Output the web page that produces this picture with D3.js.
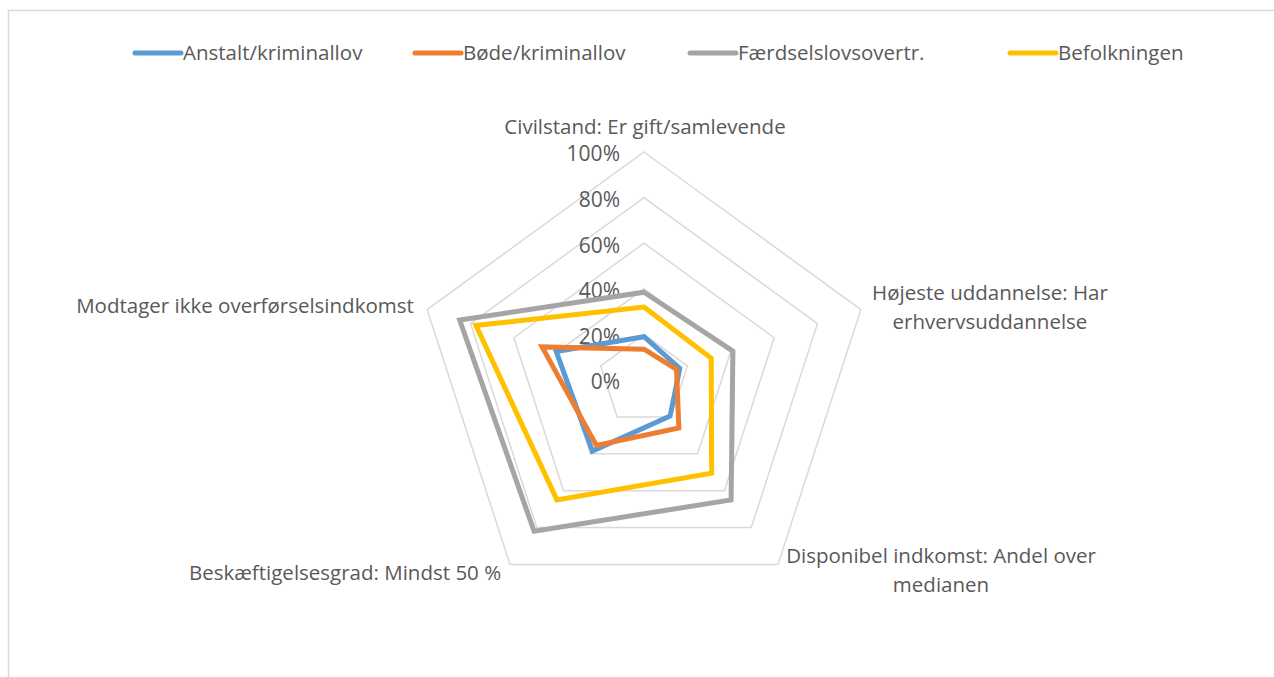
<!DOCTYPE html>
<html>
<head>
<meta charset="utf-8">
<script src="https://cdn.jsdelivr.net/npm/d3@7"></script>
<style>
  body { margin: 0; background: #fff; }
  text { font-family: "Open Sans", sans-serif; fill: #595959; }
</style>
</head>
<body>
<svg id="radar"></svg>
<script>
var categories = [
    ["Civilstand: Er gift/samlevende"],
    ["Højeste uddannelse: Har", "erhvervsuddannelse"],
    ["Disponibel indkomst: Andel over", "medianen"],
    ["Beskæftigelsesgrad: Mindst 50 %"],
    ["Modtager ikke overførselsindkomst"]
];
var seriesNames = ["Anstalt/kriminallov", "Bøde/kriminallov", "Færdselslovsovertr.", "Befolkningen"];
var anstalt    = [19, 16.5, 19.5, 38.5, 40.5];
var bode       = [13.5, 15, 26, 35.5, 47];
var faerdsel   = [38.5, 41, 65, 82, 85];
var befolkning = [32, 31, 50.5, 65, 77.5];
var ticks = [0, 20, 40, 60, 80, 100];

var colors = ["#5B9BD5", "#ED7D31", "#A5A5A5", "#FFC000"];
var seriesValues = [anstalt, bode, faerdsel, befolkning];

var width = 1274, height = 677;
var cx = 644, cy = 380, radius = 228;

var svg = d3.select("#radar")
    .attr("width", width)
    .attr("height", height);

// chart frame
svg.append("rect")
    .attr("x", 8.5)
    .attr("y", 10.5)
    .attr("width", width + 20)
    .attr("height", height + 20)
    .style("fill", "none")
    .style("stroke", "#d9d9d9")
    .style("stroke-width", 1.5);

var r = d3.scaleLinear().domain([0, 100]).range([0, radius]);
var angle = d3.scaleLinear().domain([0, categories.length]).range([0, 2 * Math.PI]);

function point(i, v) {
    var a = angle(i);
    return [cx + r(v) * Math.sin(a), cy - r(v) * Math.cos(a)];
}

var g = svg.append("g");

// grid rings
g.selectAll(".ring")
    .data(ticks.slice(1))
    .enter().append("polygon")
    .attr("class", "ring")
    .attr("points", function(t) {
        return categories.map(function(c, i) { return point(i, t).join(","); }).join(" ");
    })
    .style("fill", "none")
    .style("stroke", "#d9d9d9")
    .style("stroke-width", 1.5);

// tick labels
g.selectAll(".tick")
    .data(ticks)
    .enter().append("text")
    .attr("class", "tick")
    .attr("x", cx - 24)
    .attr("y", function(t) { return cy + 2 - r(t); })
    .attr("dy", ".35em")
    .style("text-anchor", "end")
    .style("font-size", "21px")
    .text(function(t) { return t + "%"; });

// series
var line = d3.line().curve(d3.curveLinearClosed);
seriesValues.forEach(function(vals, s) {
    g.append("path")
        .attr("d", line(vals.map(function(v, i) { return point(i, v); })))
        .style("fill", "none")
        .style("stroke", colors[s])
        .style("stroke-width", 5)
        .style("stroke-linejoin", "miter");
});

// category labels
var labelPos = [
    {x: 645, y: 127},
    {x: 990, y: 293},
    {x: 941, y: 556},
    {x: 345, y: 573},
    {x: 245, y: 306}
];
categories.forEach(function(lines, i) {
    var t = g.append("text")
        .attr("x", labelPos[i].x)
        .attr("y", labelPos[i].y)
        .style("text-anchor", "middle")
        .style("font-size", "20.5px");
    lines.forEach(function(l, k) {
        t.append("tspan")
            .attr("x", labelPos[i].x)
            .attr("dy", k === 0 ? ".35em" : "29px")
            .text(l);
    });
});

// legend
var legendX = [135, 415, 690, 1010];
var legend = svg.selectAll(".legend")
    .data(seriesNames)
    .enter().append("g")
    .attr("class", "legend")
    .attr("transform", function(d, i) { return "translate(" + legendX[i] + ",53)"; });

legend.append("line")
    .attr("x1", 0)
    .attr("x2", 46)
    .style("stroke", function(d, i) { return colors[i]; })
    .style("stroke-width", 5)
    .style("stroke-linecap", "round");

legend.append("text")
    .attr("x", 48)
    .attr("dy", ".35em")
    .style("font-size", "20.5px")
    .text(function(d) { return d; });
</script>
</body>
</html>
